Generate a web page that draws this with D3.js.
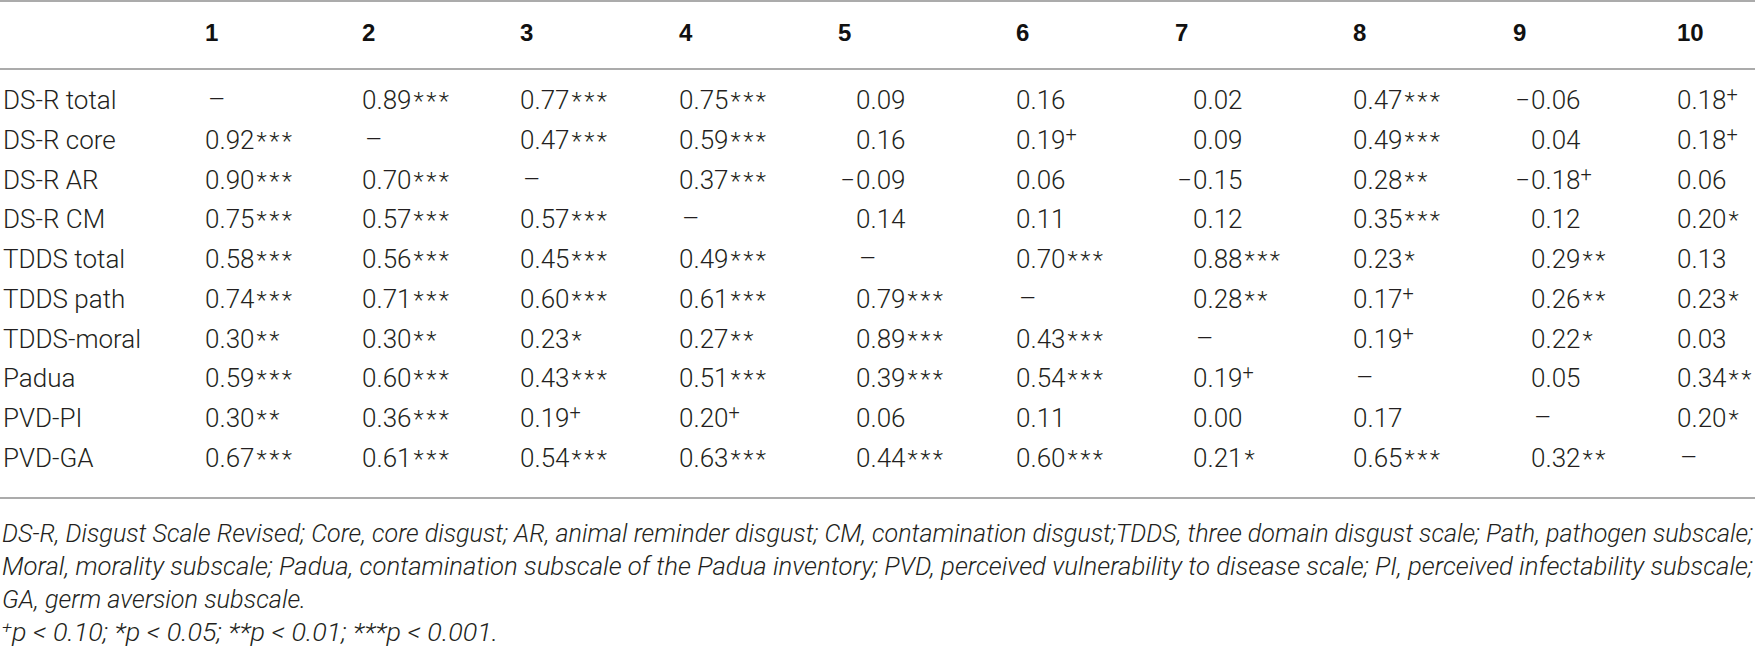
<!DOCTYPE html>
<html>
<head>
<meta charset="utf-8">
<script src="https://cdn.jsdelivr.net/npm/d3@7/dist/d3.min.js"></script>
<style>
  html, body { margin: 0; padding: 0; background: #ffffff; }
  svg { display: block; }
</style>
</head>
<body>
<div id="chart"></div>
<script>
// ---------- data ----------
const columns = ["1", "2", "3", "4", "5", "6", "7", "8", "9", "10"];
const rowLabels = ["DS-R total", "DS-R core", "DS-R AR", "DS-R CM", "TDDS total",
  "TDDS path", "TDDS-moral", "Padua", "PVD-PI", "PVD-GA"];

// correlation coefficients (null = diagonal)
const rValues = [
  [null, 0.89, 0.77, 0.75, 0.09, 0.16, 0.02, 0.47, -0.06, 0.18],
  [0.92, null, 0.47, 0.59, 0.16, 0.19, 0.09, 0.49, 0.04, 0.18],
  [0.90, 0.70, null, 0.37, -0.09, 0.06, -0.15, 0.28, -0.18, 0.06],
  [0.75, 0.57, 0.57, null, 0.14, 0.11, 0.12, 0.35, 0.12, 0.20],
  [0.58, 0.56, 0.45, 0.49, null, 0.70, 0.88, 0.23, 0.29, 0.13],
  [0.74, 0.71, 0.60, 0.61, 0.79, null, 0.28, 0.17, 0.26, 0.23],
  [0.30, 0.30, 0.23, 0.27, 0.89, 0.43, null, 0.19, 0.22, 0.03],
  [0.59, 0.60, 0.43, 0.51, 0.39, 0.54, 0.19, null, 0.05, 0.34],
  [0.30, 0.36, 0.19, 0.20, 0.06, 0.11, 0.00, 0.17, null, 0.20],
  [0.67, 0.61, 0.54, 0.63, 0.44, 0.60, 0.21, 0.65, 0.32, null]
];

// significance markers
const sigMarks = [
  ["", "***", "***", "***", "", "", "", "***", "", "+"],
  ["***", "", "***", "***", "", "+", "", "***", "", "+"],
  ["***", "***", "", "***", "", "", "", "**", "+", ""],
  ["***", "***", "***", "", "", "", "", "***", "", "*"],
  ["***", "***", "***", "***", "", "***", "***", "*", "**", ""],
  ["***", "***", "***", "***", "***", "", "**", "+", "**", "*"],
  ["**", "**", "*", "**", "***", "***", "", "+", "*", ""],
  ["***", "***", "***", "***", "***", "***", "+", "", "", "**"],
  ["**", "***", "+", "+", "", "", "", "", "", "*"],
  ["***", "***", "***", "***", "***", "***", "*", "***", "**", ""]
];

const footnoteLines = [
  "DS-R, Disgust Scale Revised; Core, core disgust; AR, animal reminder disgust; CM, contamination disgust;TDDS, three domain disgust scale; Path, pathogen subscale;",
  "Moral, morality subscale; Padua, contamination subscale of the Padua inventory; PVD, perceived vulnerability to disease scale; PI, perceived infectability subscale;",
  "GA, germ aversion subscale."
];
const sigLegend = [
  ["+", "p < 0.10; "], ["*", "p < 0.05; "], ["**", "p < 0.01; "], ["***", "p < 0.001."]
];

// ---------- layout ----------
const W = 1755, H = 656;
const colLeft = [205, 362, 520, 679, 838, 1016, 1175, 1353, 1513, 1677];
const minusW = 18;
const ink = "#231f20";
const ruleColor = "#ababab";
const lightFont = "Roboto, 'Liberation Sans', Arial, sans-serif";

const svg = d3.select("#chart").append("svg")
  .attr("width", W).attr("height", H)
  .attr("viewBox", `0 0 ${W} ${H}`);

const x = d3.scaleOrdinal().domain(columns).range(colLeft);
const y = d3.scalePoint().domain(rowLabels).range([100, 458]);
const fmt = d3.format(".2f");

// columns containing negative values get digit-aligned offset
const hasNeg = columns.map((c, j) => rValues.some(r => r[j] !== null && r[j] < 0));

// rules
const rules = [1, 69, 498];
svg.selectAll("line.rule").data(rules).join("line")
  .attr("class", "rule")
  .attr("x1", 0).attr("x2", W)
  .attr("y1", d => d).attr("y2", d => d)
  .attr("stroke", ruleColor).attr("stroke-width", 2);

// header
svg.selectAll("text.head").data(columns).join("text")
  .attr("class", "head")
  .attr("x", d => x(d))
  .attr("y", 41)
  .attr("font-family", "'Liberation Sans', Arial, sans-serif")
  .attr("font-weight", "bold")
  .attr("font-size", 24)
  .attr("fill", "#111")
  .text(d => d);

// row labels
svg.selectAll("text.rowlab").data(rowLabels).join("text")
  .attr("class", "rowlab")
  .attr("x", 3)
  .attr("y", d => y(d) + 9)
  .attr("font-family", lightFont)
  .attr("font-weight", 300)
  .attr("font-size", 26)
  .attr("fill", ink)
  .text(d => d);

// cells
const cells = [];
rowLabels.forEach((rl, i) => {
  columns.forEach((c, j) => {
    cells.push({ row: rl, col: c, j, v: rValues[i][j], sig: sigMarks[i][j] });
  });
});

const g = svg.append("g");
cells.forEach(d => {
  const digitX = x(d.col) + (hasNeg[d.j] ? minusW : 0);
  const yy = y(d.row) + 9;
  if (d.v === null) {
    g.append("text")
      .attr("x", digitX + 3).attr("y", yy)
      .attr("font-family", lightFont).attr("font-weight", 300)
      .attr("font-size", 27).attr("fill", ink)
      .text("–");
    return;
  }
  if (d.v < 0) {
    g.append("text")
      .attr("x", digitX - 1).attr("y", yy)
      .attr("text-anchor", "end")
      .attr("font-family", lightFont).attr("font-weight", 300)
      .attr("font-size", 26).attr("fill", ink)
      .text("−");
  }
  const t = g.append("text")
    .attr("x", digitX).attr("y", yy)
    .attr("font-family", lightFont).attr("font-weight", 300)
    .attr("font-size", 26).attr("fill", ink);
  t.append("tspan").text(fmt(Math.abs(d.v)));
  if (d.sig === "+") {
    t.append("tspan").attr("font-size", 20).attr("dy", -8).text("+");
  } else if (d.sig) {
    t.append("tspan").attr("font-size", 24).attr("dx", 2)
      .attr("letter-spacing", 2.5).text(d.sig);
  }
});

// footnotes
const footY = [542, 575, 608];
const footLen = [1751, 1751, 304];
footnoteLines.forEach((line, i) => {
  const t = svg.append("text")
    .attr("x", 2).attr("y", footY[i])
    .attr("font-family", lightFont).attr("font-weight", 300)
    .attr("font-style", "italic")
    .attr("font-size", 25).attr("fill", ink)
    .text(line);
  if (footLen[i]) t.attr("textLength", footLen[i]).attr("lengthAdjust", "spacingAndGlyphs");
});

const leg = svg.append("text")
  .attr("x", 2).attr("y", 641)
  .attr("font-family", lightFont).attr("font-weight", 300)
  .attr("font-style", "italic")
  .attr("font-size", 25).attr("fill", ink)
  .attr("textLength", 496).attr("lengthAdjust", "spacingAndGlyphs");
sigLegend.forEach(([m, txt]) => {
  if (m === "+") {
    leg.append("tspan").attr("font-size", 17).attr("dy", -8).text(m);
    leg.append("tspan").attr("dy", 8).text(txt);
  } else {
    leg.append("tspan").text(m + txt);
  }
});
</script>
</body>
</html>
